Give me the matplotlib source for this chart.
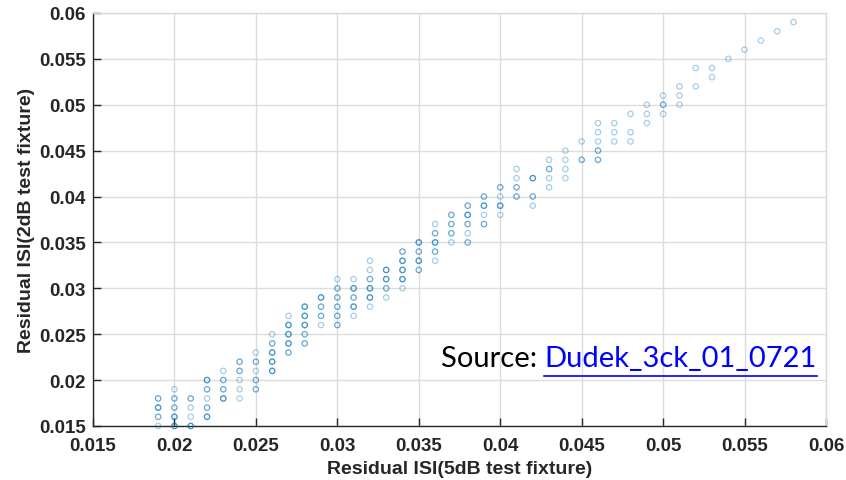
import numpy as np
import matplotlib.pyplot as plt

# residual ISI, one line per x column
# (x = 5dB fixture, y = 2dB fixture, n = how many samples sit on that spot)
isi_5db = [
    0.019, 0.019, 0.019, 0.019,
    0.020, 0.020, 0.020, 0.020, 0.020,
    0.021, 0.021, 0.021, 0.021,
    0.022, 0.022, 0.022, 0.022, 0.022,
    0.023, 0.023, 0.023, 0.023,
    0.024, 0.024, 0.024, 0.024, 0.024,
    0.025, 0.025, 0.025, 0.025, 0.025,
    0.026, 0.026, 0.026, 0.026, 0.026,
    0.027, 0.027, 0.027, 0.027, 0.027,
    0.028, 0.028, 0.028, 0.028, 0.028,
    0.029, 0.029, 0.029, 0.029,
    0.030, 0.030, 0.030, 0.030, 0.030, 0.030,
    0.031, 0.031, 0.031, 0.031, 0.031,
    0.032, 0.032, 0.032, 0.032, 0.032, 0.032,
    0.033, 0.033, 0.033, 0.033,
    0.034, 0.034, 0.034, 0.034, 0.034,
    0.035, 0.035, 0.035, 0.035,
    0.036, 0.036, 0.036, 0.036, 0.036,
    0.037, 0.037, 0.037, 0.037,
    0.038, 0.038, 0.038, 0.038, 0.038,
    0.039, 0.039, 0.039, 0.039,
    0.040, 0.040, 0.040, 0.040,
    0.041, 0.041, 0.041, 0.041,
    0.042, 0.042, 0.042,
    0.043, 0.043, 0.043, 0.043,
    0.044, 0.044, 0.044, 0.044,
    0.045, 0.045,
    0.046, 0.046, 0.046, 0.046, 0.046,
    0.047, 0.047, 0.047,
    0.048, 0.048, 0.048,
    0.049, 0.049, 0.049,
    0.050, 0.050, 0.050,
    0.051, 0.051, 0.051,
    0.052, 0.052,
    0.053, 0.053,
    0.054, 0.055, 0.056, 0.057, 0.058,
]
isi_2db = [
    0.018, 0.017, 0.016, 0.015,
    0.019, 0.018, 0.017, 0.016, 0.015,
    0.018, 0.017, 0.016, 0.015,
    0.020, 0.019, 0.018, 0.017, 0.016,
    0.021, 0.020, 0.019, 0.018,
    0.022, 0.021, 0.020, 0.019, 0.018,
    0.023, 0.022, 0.021, 0.020, 0.019,
    0.025, 0.024, 0.023, 0.022, 0.021,
    0.027, 0.026, 0.025, 0.024, 0.023,
    0.028, 0.027, 0.026, 0.025, 0.024,
    0.029, 0.028, 0.027, 0.026,
    0.031, 0.030, 0.029, 0.028, 0.027, 0.026,
    0.031, 0.030, 0.029, 0.028, 0.027,
    0.033, 0.032, 0.031, 0.030, 0.029, 0.028,
    0.032, 0.031, 0.030, 0.029,
    0.034, 0.033, 0.032, 0.031, 0.030,
    0.035, 0.034, 0.033, 0.032,
    0.037, 0.036, 0.035, 0.034, 0.033,
    0.038, 0.037, 0.036, 0.035,
    0.039, 0.038, 0.037, 0.036, 0.035,
    0.040, 0.039, 0.038, 0.037,
    0.041, 0.040, 0.039, 0.038,
    0.043, 0.042, 0.041, 0.040,
    0.042, 0.040, 0.039,
    0.044, 0.043, 0.042, 0.041,
    0.045, 0.044, 0.043, 0.042,
    0.046, 0.044,
    0.048, 0.047, 0.046, 0.045, 0.044,
    0.048, 0.047, 0.046,
    0.049, 0.047, 0.046,
    0.050, 0.049, 0.048,
    0.051, 0.050, 0.049,
    0.052, 0.051, 0.050,
    0.054, 0.052,
    0.054, 0.053,
    0.055, 0.056, 0.057, 0.058, 0.059,
]
n_overlap = [
    2, 3, 2, 1,
    1, 2, 2, 3, 3,
    2, 1, 1, 3,
    3, 2, 1, 2, 3,
    1, 2, 2, 3,
    2, 2, 1, 1, 1,
    1, 2, 1, 2, 2,
    1, 2, 3, 3, 3,
    1, 3, 3, 3, 2,
    3, 3, 3, 2, 2,
    3, 2, 2, 1,
    1, 2, 2, 2, 2, 2,
    1, 3, 2, 3, 1,
    1, 1, 2, 3, 3, 1,
    3, 3, 2, 1,
    2, 3, 3, 3, 1,
    3, 2, 3, 2,
    1, 2, 3, 2, 1,
    2, 2, 2, 1,
    2, 3, 2, 1, 2,
    2, 3, 1, 2,
    2, 1, 3, 1,
    1, 1, 2, 2,
    3, 2, 1,
    1, 2, 1, 1,
    1, 1, 1, 1,
    1, 2,
    1, 1, 1, 2, 2,
    1, 1, 1,
    1, 1, 1,
    1, 1, 1,
    1, 2, 1,
    1, 1, 1,
    1, 1,
    1, 1,
    1, 1, 1, 1, 1,
]

ticks = np.arange(0.015, 0.0601, 0.005)
tick_labels = ['0.015', '0.02', '0.025', '0.03', '0.035', '0.04',
               '0.045', '0.05', '0.055', '0.06']

plt.rcParams['font.family'] = ['Liberation Sans', 'DejaVu Sans']

fig = plt.figure(figsize=(8.46, 4.81), dpi=100)
ax = fig.add_axes([0.1099, 0.1123, 0.8665, 0.8587])

# one marker per sample, so stacked samples come out darker
x_rep = np.repeat(isi_5db, n_overlap)
y_rep = np.repeat(isi_2db, n_overlap)
ax.scatter(x_rep, y_rep, s=15, facecolors='none', edgecolors='#0072BD',
           linewidths=0.85, alpha=0.37, clip_on=False, zorder=3)

ax.set_xlim(0.015, 0.06)
ax.set_ylim(0.015, 0.06)
ax.set_xticks(ticks)
ax.set_yticks(ticks)
ax.set_xticklabels(tick_labels)
ax.set_yticklabels(tick_labels)
ax.grid(True, color='#dcdcdc', linewidth=1.0)
ax.set_axisbelow(True)

for side in ['left', 'bottom']:
    ax.spines[side].set_color('#262626')
    ax.spines[side].set_linewidth(1.0)
for side in ['top', 'right']:
    ax.spines[side].set_color('#d9d9d9')
    ax.spines[side].set_linewidth(1.0)

ax.tick_params(direction='in', length=6, width=1, color='#262626',
               labelsize=13.5, labelcolor='#262626')
ax.tick_params(axis='x', pad=8)
ax.tick_params(axis='y', pad=5)
for lab in ax.get_xticklabels() + ax.get_yticklabels():
    lab.set_fontweight('bold')

ax.set_xlabel('Residual ISI(5dB test fixture)', fontsize=14, fontweight='bold',
              color='#262626', labelpad=4)
ax.set_ylabel('Residual ISI(2dB test fixture)', fontsize=14, fontweight='bold',
              color='#262626', labelpad=3)

# source note over the plot, black prefix + blue underlined link text
src = fig.text(0.521, 0.236, 'Source: ', fontsize=21, color='black',
               family=['Lato', 'DejaVu Sans'], ha='left', va='baseline')
fig.canvas.draw()
bb = src.get_window_extent()
x_link = bb.x1 / fig.bbox.width
link = fig.text(x_link, 0.236, 'Dudek_3ck_01_0721', fontsize=21, color='#0000FF',
                family=['Lato', 'DejaVu Sans'], ha='left', va='baseline')
fig.canvas.draw()
lb = link.get_window_extent()
fig.add_artist(plt.Line2D([lb.x0 / fig.bbox.width, lb.x1 / fig.bbox.width],
                          [0.217, 0.217], color='#0000FF', linewidth=1.2))

fig.savefig('out.png', dpi=100)
